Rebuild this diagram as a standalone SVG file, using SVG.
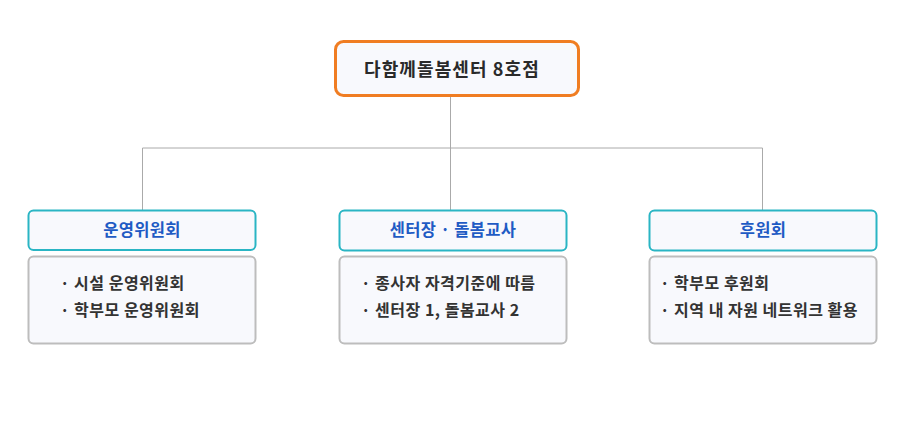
<svg xmlns="http://www.w3.org/2000/svg" width="900" height="434" viewBox="0 0 900 434">
<style>
.root{fill:#f8f9fd;stroke:#f07d22;stroke-width:3}
.head{fill:#f8f9fd;stroke:#2ab5c4;stroke-width:2}
.body{fill:#f8f9fd;stroke:#bdbdbd;stroke-width:2}
.conn{fill:none;stroke:#aaaaaa;stroke-width:1}
text{font-family:"Noto Sans CJK KR","Noto Sans",sans-serif}
.t0{font-size:18px;font-weight:700;fill:#2a2a2a;letter-spacing:1.1px}
.th{font-size:16.5px;font-weight:700;fill:#1f5bc4;text-anchor:middle;letter-spacing:0.3px}
.tb{font-size:16px;font-weight:700;fill:#333333;letter-spacing:0.5px}
</style>
<rect width="900" height="434" fill="#ffffff"/>
<g id="connectors">
<path class="conn" d="M450.5 97V148M142.5 148H762.5M142.5 148V210M450.5 148V210M762.5 148V210"/>
</g>
<g id="root">
<rect class="root" x="335.5" y="41.5" width="243" height="54" rx="8"/>
<text class="t0" x="364" y="76">다함께돌봄센터 8호점</text>
</g>
<g id="n1">
<rect class="head" x="28.5" y="210.5" width="227" height="39.5" rx="5"/>
<text class="th" x="142" y="236">운영위원회</text>
<rect class="body" x="28.5" y="256.5" width="227" height="87" rx="5"/>
<text class="tb" x="60" y="289">· 시설 운영위원회</text>
<text class="tb" x="60" y="316">· 학부모 운영위원회</text>
</g>
<g id="n2">
<rect class="head" x="339.5" y="210.5" width="227" height="40" rx="5"/>
<text class="th" x="453" y="236">센터장 · 돌봄교사</text>
<rect class="body" x="339.5" y="256.5" width="227" height="87" rx="5"/>
<text class="tb" x="361" y="289">· 종사자 자격기준에 따름</text>
<text class="tb" x="361" y="316">· 센터장 1, 돌봄교사 2</text>
</g>
<g id="n3">
<rect class="head" x="649.5" y="210.5" width="227" height="40" rx="5"/>
<text class="th" x="763" y="236">후원회</text>
<rect class="body" x="649.5" y="256.5" width="227" height="87" rx="5"/>
<text class="tb" x="660" y="289">· 학부모 후원회</text>
<text class="tb" x="660" y="316">· 지역 내 자원 네트워크 활용</text>
</g>
</svg>
